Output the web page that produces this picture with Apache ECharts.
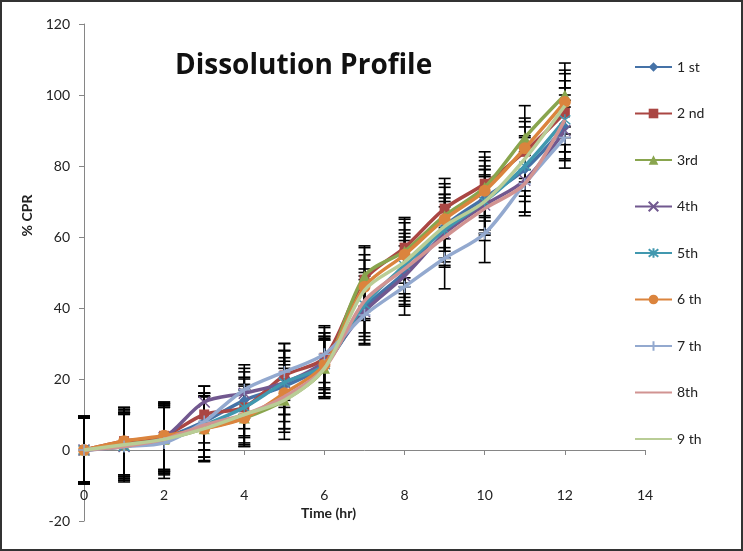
<!DOCTYPE html>
<html><head><meta charset="utf-8">
<script src="https://cdn.jsdelivr.net/npm/echarts@6/dist/echarts.min.js"></script>
<style>html,body{margin:0;padding:0;background:#fff}#c{width:743px;height:551px}</style>
</head><body><div id="c"></div>
<script>
// ---- data ----
const timeHr = [0,1,2,3,4,5,6,7,8,9,10,11,12];
const seriesNames = ['1 st','2 nd','3rd','4th','5th','6 th','7 th','8th','9 th'];
const cpr1 = [0, 2.0, 3.5, 8, 14, 18, 24, 40, 50, 63, 71, 79, 91];
const cpr2 = [0, 2.5, 4.0, 10, 12, 21, 26, 48, 57, 68, 75, 84, 95];
const cpr3 = [0, 1.5, 3.0, 6, 9, 14, 23, 49, 56, 66, 74, 88, 100];
const cpr4 = [0, 1.0, 3.5, 13.5, 16, 19, 25, 39, 49, 61, 69, 76, 90];
const cpr5 = [0, 1.0, 3.0, 7, 12, 19, 24, 41, 52, 62, 70, 80, 93];
const cpr6 = [0, 2.5, 4.0, 6, 9, 16, 24, 46, 55, 65, 73, 85, 98];
const cpr7 = [0, 1.0, 2.0, 8, 17, 22, 27, 38, 46, 54, 61, 75, 88];
const cpr8 = [0, 1.0, 3.0, 7, 10, 15, 23, 42, 51, 60, 68, 75, 93];
const cpr9 = [0, 1.5, 3.0, 6, 10, 14, 23, 45, 53, 63, 70, 82, 97];
const err1 = [9.5, 9.5, 9.5, 8, 8, 10, 8, 9, 9, 9, 9, 9, 9];
const err2 = [9.0, 9.5, 9.5, 8, 8, 9, 8.5, 9, 8.5, 8.5, 9, 8.5, 9];
const err3 = [9.5, 9.0, 10, 9.3, 8, 11, 8, 8.5, 9, 9, 8.5, 9, 9];
const err4 = [9.0, 10, 9.5, 4.5, 7, 9, 8, 9, 8.5, 9, 8.5, 9, 8.5];
const err5 = [9.5, 9.5, 9.0, 9, 8.5, 9, 8, 9, 9, 9, 9, 8.5, 9];
const err6 = [9.0, 9.5, 9.5, 9, 8, 10, 9, 9, 9, 9, 8.5, 8.5, 9];
const err7 = [9.5, 9.0, 10, 8, 7, 8, 8, 8.4, 8, 8.6, 8.2, 8, 8.6];
const err8 = [9.0, 9.5, 9.5, 9, 8, 9, 8.5, 9, 9, 8.5, 9, 9, 9];
const err9 = [9.5, 9.0, 9.5, 9, 8.5, 9, 8, 8.5, 9, 9, 9, 9, 9];
const yTicks = [-20, 0, 20, 40, 60, 80, 100, 120];
const xTicks = [0, 2, 4, 6, 8, 10, 12, 14];

const cprList = [cpr1,cpr2,cpr3,cpr4,cpr5,cpr6,cpr7,cpr8,cpr9];
const errList = [err1,err2,err3,err4,err5,err6,err7,err8,err9];
const colors = ['#4572A7','#AA4643','#89A54E','#71588F','#4198AF','#DB843D','#93A9CF','#D19392','#B9CD96'];
const symbols = [
  'diamond','rect','triangle',
  'path://M0,0L10,10M10,0L0,10',
  'path://M5,0L5,10M1,1L9,9M9,1L1,9',
  'circle',
  'path://M5,0L5,10M0,5L10,5',
  'none','none'
];
const symSizes = [10,10,11,11,11,12,12,1,1];
const FONT = 'Lato';

const series = [];
cprList.forEach(function(vals, i){
  series.push({
    name: seriesNames[i] + ' err', type: 'custom', z: 1, silent: true,
    data: timeHr.map(function(t, j){ return [t, vals[j], errList[i][j]]; }),
    renderItem: function(params, api){
      const x = api.value(0), v = api.value(1), e = api.value(2);
      const top = api.coord([x, v + e]);
      const bot = api.coord([x, v - e]);
      const hw = 6;
      const st = {stroke:'#000', lineWidth:1.6};
      return {type:'group', children:[
        {type:'line', shape:{x1:top[0],y1:top[1],x2:bot[0],y2:bot[1]}, style:st},
        {type:'line', shape:{x1:top[0]-hw,y1:top[1],x2:top[0]+hw,y2:top[1]}, style:st},
        {type:'line', shape:{x1:bot[0]-hw,y1:bot[1],x2:bot[0]+hw,y2:bot[1]}, style:st}
      ]};
    }
  });
});
cprList.forEach(function(vals, i){
  const isPath = symbols[i].indexOf('path://') === 0;
  series.push({
    name: seriesNames[i], type: 'line', z: 3 + i,
    smooth: 0.3,
    data: timeHr.map(function(t, j){ return [t, vals[j]]; }),
    symbol: symbols[i], symbolSize: symSizes[i], showSymbol: symbols[i] !== 'none',
    lineStyle: {color: colors[i], width: 3.5},
    itemStyle: isPath ? {color: colors[i], borderColor: colors[i], borderWidth: 1.5} : {color: colors[i]},
    emphasis: {disabled: true}
  });
});

const legendData = seriesNames.map(function(n, i){
  return symbols[i] === 'none' ? {name: n, itemStyle: {opacity: 0}} : {name: n};
});

const chart = echarts.init(document.getElementById('c'), null, {renderer:'canvas'});
chart.setOption({
  animation: false,
  color: colors,
  title: {
    text: 'Dissolution Profile', left: 175, top: 52, padding: 0,
    textStyle: {fontFamily: 'Open Sans', fontSize: 28, fontWeight: 'bold', color: '#111'}
  },
  graphic: [{type:'rect', shape:{x:1,y:1,width:741,height:549}, style:{fill:'none', stroke:'#333', lineWidth:2}, silent:true}],
  legend: {
    orient: 'vertical', left: 634, top: 60, padding: 0,
    data: legendData,
    itemWidth: 37, itemHeight: 12, itemGap: 32.5,
    textStyle: {fontFamily: FONT, fontSize: 14, color: '#222'}
  },
  grid: {left: 84, right: 98, top: 24, bottom: 30, containLabel: false,
         outerBounds: {left: -300, top: -300, right: -300, bottom: -300}},
  xAxis: {
    type: 'value', min: xTicks[0], max: xTicks[xTicks.length-1], interval: 2,
    name: 'Time (hr)', nameLocation: 'middle', nameGap: -29,
    nameTextStyle: {fontFamily: FONT, fontSize: 14, fontWeight: 'bold', color: '#222', padding: [0, 72, 0, 0]},
    axisLine: {onZero: true, lineStyle: {color: '#868686', width: 1}},
    axisTick: {show: true, length: 5, lineStyle: {color: '#868686'}},
    axisLabel: {show: true, margin: -33, fontFamily: FONT, fontSize: 14, color: '#222'},
    splitLine: {show: false}
  },
  yAxis: {
    type: 'value', min: yTicks[0], max: yTicks[yTicks.length-1], interval: 20,
    name: '% CPR', nameLocation: 'middle', nameGap: 39,
    nameTextStyle: {fontFamily: FONT, fontSize: 14, fontWeight: 'bold', color: '#222', padding: [0, 0, 0, 114]},
    axisLine: {show: true, onZero: false, lineStyle: {color: '#868686', width: 1}},
    axisTick: {show: true, length: 5, lineStyle: {color: '#868686'}},
    axisLabel: {margin: 14, fontFamily: FONT, fontSize: 14, color: '#222'},
    splitLine: {show: false}
  },
  series: series
});
</script></body></html>
